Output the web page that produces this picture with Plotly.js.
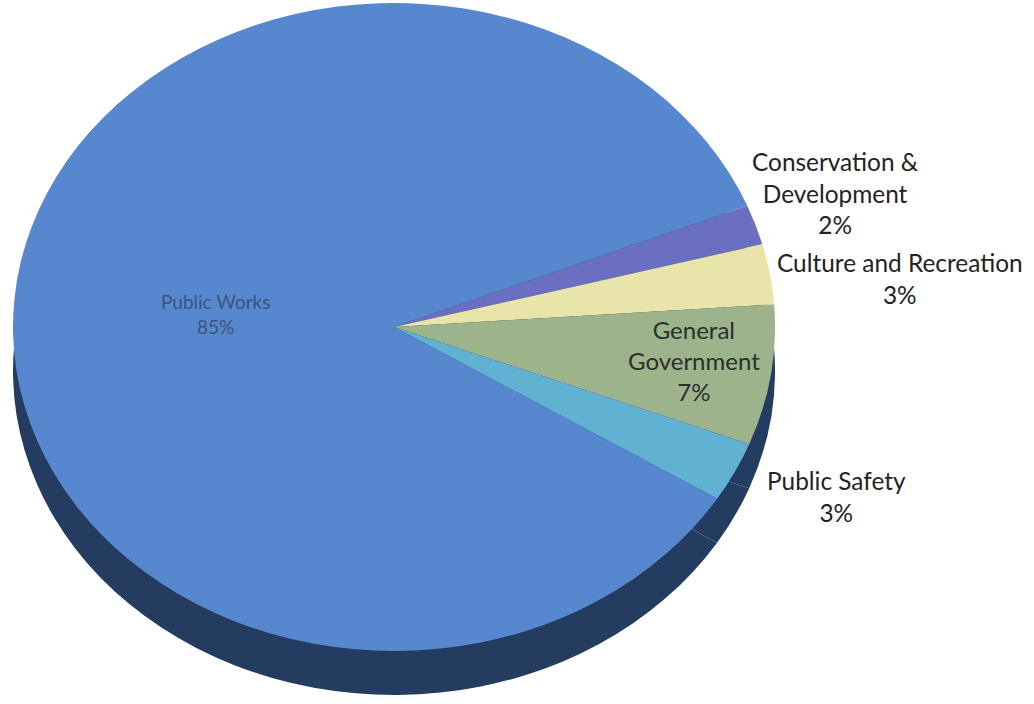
<!DOCTYPE html>
<html>
<head>
<meta charset="utf-8">
<script src="https://cdn.plot.ly/plotly-3.0.1.min.js"></script>
<style>
  html, body { margin: 0; padding: 0; overflow: hidden; background: #ffffff; width: 1034px; height: 704px; }
  #pie { position: absolute; left: 0; top: 0; width: 1034px; height: 704px; }
  #labels { position: absolute; left: 0; top: 0; width: 1034px; height: 704px; }
</style>
</head>
<body>
<div id="pie"></div>
<div id="labels"></div>
<script>
// ---- data ----
const categories = ['Conservation & Development', 'Culture and Recreation', 'General Government', 'Public Safety', 'Public Works'];
const displayLabels = ['Conservation &<br>Development', 'Culture and Recreation', 'General<br>Government', 'Public Safety', 'Public Works'];
const percents = [2, 3, 7, 3, 85];
const sliceColors = ['#6a6fc1', '#e9e5aa', '#9cb38b', '#60b1d2', '#5788cf'];
const sideColor = '#233c5f';

// ---- geometry (pixels) ----
const W = 1034, H = 704;
const cx = 394, cy = 327;          // centre of the pie face
const rx = 381, ry = 324;          // radii of the (elliptical) pie face
const depth = 44;                  // visible thickness of the pie
const r0 = 300;                    // radius the circle is drawn at before the view is stretched
const sx = rx / r0, sy = ry / r0;

const pieDiv = document.getElementById('pie');
pieDiv.style.transformOrigin = cx + 'px ' + cy + 'px';
pieDiv.style.transform = 'scale(' + sx + ',' + sy + ')';

function px2paperX(x) { return x / W; }
function px2paperY(y) { return 1 - y / H; }

const faceDomain = { x: [px2paperX(cx - r0), px2paperX(cx + r0)], y: [px2paperY(cy + r0), px2paperY(cy - r0)] };
const d0 = depth / sy;
const sideDomain = { x: faceDomain.x, y: [px2paperY(cy + r0 + d0), px2paperY(cy - r0 + d0)] };

const common = {
  type: 'pie', labels: categories, values: percents, sort: false,
  direction: 'clockwise', rotation: 68, textinfo: 'none',
  hoverinfo: 'skip', showlegend: false
};

const traces = [
  Object.assign({}, common, { domain: sideDomain, marker: { colors: categories.map(() => sideColor), line: { width: 0 } } }),
  Object.assign({}, common, { domain: faceDomain, marker: { colors: sliceColors, line: { width: 0 } } })
];

Plotly.newPlot('pie', traces, {
  width: W, height: H, margin: { l: 0, r: 0, t: 0, b: 0 },
  paper_bgcolor: 'rgba(0,0,0,0)', plot_bgcolor: 'rgba(0,0,0,0)'
}, { staticPlot: true });

// ---- labels (window pixels) ----
const labelPos = [
  { x: 835, y: 193, size: 24.4, color: '#232323' },
  { x: 900, y: 278, size: 24.4, color: '#232323' },
  { x: 694, y: 360, size: 24, color: '#2b2f2a' },
  { x: 836, y: 496, size: 24.4, color: '#232323' },
  { x: 215, y: 314, size: 19, color: '#3a5579' }
];

const annotations = categories.map((c, i) => ({
  xref: 'paper', yref: 'paper',
  x: px2paperX(labelPos[i].x), y: px2paperY(labelPos[i].y),
  xanchor: 'center', yanchor: 'middle', showarrow: false,
  text: displayLabels[i] + '<br>' + percents[i] + '%',
  font: { family: 'Lato, "Open Sans", sans-serif', size: labelPos[i].size, color: labelPos[i].color }
}));

Plotly.newPlot('labels', [], {
  width: W, height: H, margin: { l: 0, r: 0, t: 0, b: 0 },
  paper_bgcolor: 'rgba(0,0,0,0)', plot_bgcolor: 'rgba(0,0,0,0)',
  xaxis: { visible: false }, yaxis: { visible: false },
  annotations: annotations
}, { staticPlot: true });
</script>
</body>
</html>
